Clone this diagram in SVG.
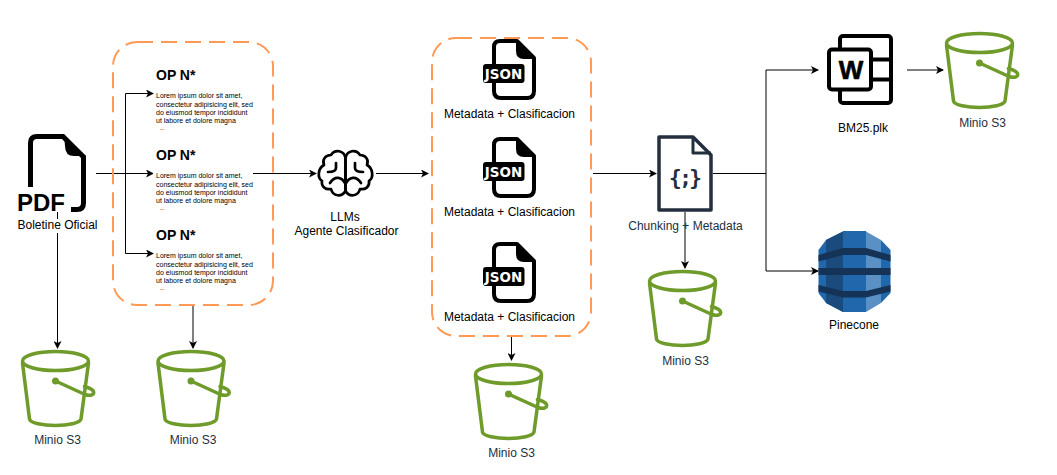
<svg xmlns="http://www.w3.org/2000/svg" width="1057" height="475" viewBox="0 0 1057 475">
<style>
text{font-family:"Liberation Sans",Arial,sans-serif;font-size:12px;fill:#000}
.c{text-anchor:middle}
.d{fill:#232F3E}
.box{fill:none;stroke:#FF9955;stroke-width:2;stroke-dasharray:16 8}
.e{fill:none;stroke:#000;stroke-width:1}
.h{font-size:14px;font-weight:bold}
.l{font-size:7px}
.b{fill:none;stroke:#6F9B2B;stroke-width:3.500;stroke-linecap:round;stroke-linejoin:round}
.k{fill:none;stroke:#000;stroke-width:4;stroke-linejoin:round}
.j{font-family:"DejaVu Sans",sans-serif;font-size:13.500px;font-weight:bold;fill:#fff;text-anchor:middle}
</style>
<defs>
<marker id="a" markerWidth="8" markerHeight="8" refX="7" refY="4" orient="auto" markerUnits="userSpaceOnUse"><path d="M0,0 L8,4 L0,8 L2,4Z" fill="#000"/></marker>
<g id="bucket">
<ellipse class="b" cx="34.500" cy="11" rx="33" ry="9.500"/>
<path class="b" d="M1.500,13 L8.500,69 C9,73 22,75.500 34.500,75.500 C47,75.500 59,73 60,69 L67.500,13"/>
<circle cx="34.500" cy="31" r="3.500" fill="#6F9B2B"/>
<path class="b" d="M34.500,31 L64,44.500 C70,46.500 73.500,44.500 72.500,41.500 C71.500,39 67,37.500 63.500,36.500"/>
</g>
<g id="json">
<path class="k" d="M0,50 V6 Q0,0 6,0 H23 L40,17 V50 Q40,57 33,57 H7 Q0,57 0,50Z" fill="#fff" transform="translate(2,2)"/>
<path d="M24,1 L43,20 H32 Q24,20 24,12Z" fill="#000"/>
<rect x="-9" y="25" width="41.500" height="19" rx="3" fill="#000"/>
<text class="j" x="11.500" y="40">JSON</text>
</g>
</defs>

<g id="connectors">
<path class="e" d="M96,173.500 H316" marker-end="url(#a)"/>
<path class="e" d="M125.500,253.500 V93.500"/>
<path class="e" d="M125.500,93.500 H153" marker-end="url(#a)"/>
<path class="e" d="M125.500,173.500 H153" marker-end="url(#a)"/>
<path class="e" d="M125.500,253.500 H153" marker-end="url(#a)"/>
<path class="e" d="M376,173.500 H428" marker-end="url(#a)"/>
<path class="e" d="M593,173.500 H656" marker-end="url(#a)"/>
<path class="e" d="M713,173.500 H766"/>
<path class="e" d="M766,173.500 V70 H818" marker-end="url(#a)"/>
<path class="e" d="M766,173.500 V271 H818" marker-end="url(#a)"/>
<path class="e" d="M907,70 H943" marker-end="url(#a)"/>
<path class="e" d="M685,212 V268" marker-end="url(#a)"/>
<path class="e" d="M57.500,212 V348" marker-end="url(#a)"/>
<path class="e" d="M193,305 V348" marker-end="url(#a)"/>
<path class="e" d="M511.500,336 V360" marker-end="url(#a)"/>
</g>

<g id="box1">
<rect class="box" x="113" y="42" width="160" height="263" rx="24"/>
<rect x="153" y="168" width="100" height="12" fill="#fff"/>
<g id="op1"><text class="h" x="156" y="80">OP N*</text><text class="l"><tspan x="156" y="98">Lorem ipsum dolor sit amet,</tspan><tspan x="156" y="106.500">consectetur adipisicing elit, sed</tspan><tspan x="156" y="114.500">do eiusmod tempor incididunt</tspan><tspan x="156" y="123">ut labore et dolore magna</tspan><tspan x="160" y="129.500">..</tspan></text></g>
<g id="op2"><text class="h" x="156" y="160">OP N*</text><text class="l"><tspan x="156" y="178">Lorem ipsum dolor sit amet,</tspan><tspan x="156" y="186.500">consectetur adipisicing elit, sed</tspan><tspan x="156" y="194.500">do eiusmod tempor incididunt</tspan><tspan x="156" y="203">ut labore et dolore magna</tspan><tspan x="160" y="209.500">..</tspan></text></g>
<g id="op3"><text class="h" x="156" y="240">OP N*</text><text class="l"><tspan x="156" y="258">Lorem ipsum dolor sit amet,</tspan><tspan x="156" y="266.500">consectetur adipisicing elit, sed</tspan><tspan x="156" y="274.500">do eiusmod tempor incididunt</tspan><tspan x="156" y="283">ut labore et dolore magna</tspan><tspan x="160" y="289.500">..</tspan></text></g>
</g>

<g id="pdf">
<path fill="none" stroke="#000" stroke-width="5" d="M30.500,187 V143 Q30.500,136.500 37,136.500 H63 L83.500,157 V203 Q83.500,209.500 77,209.500 H71"/>
<path d="M64,135 L86,156 H74 Q65,156 65,146Z" fill="#000"/>
<text x="17" y="211" style="font-size:24px;font-weight:bold">PDF</text>
<rect x="17" y="219" width="81" height="14" fill="#fff"/>
<text class="c" x="57.500" y="229">Boletine Oficial</text>
</g>

<g id="brain">
<g fill="none" stroke="#000" stroke-width="2.700" stroke-linecap="round" stroke-linejoin="round">
<path d="M345.500,158 C344,150 335,149 331,155 C325,155 322,160 324,165 C318,168 317,178 322,181 C321,187 326,190 331,189 C333,197 342,197 345.500,191 Z"/>
<path d="M345.500,158 C347,150 356,149 360,155 C366,155 369,160 367,165 C373,168 374,178 369,181 C370,187 365,190 360,189 C358,197 349,197 345.500,191 Z"/>
<path d="M336,163 V168 C336,171 332,172 328,172"/>
<path d="M355,163 V168 C355,171 359,172 363,172"/>
<path d="M330,183 C335,175 342,177 345.500,184"/>
<path d="M361,183 C356,175 349,177 345.500,184"/>
</g>
<text class="c" x="345" y="221">LLMs</text>
<text class="c" x="346.500" y="234.500">Agente Clasificador</text>
</g>

<g id="box2">
<rect class="box" x="432" y="38" width="159" height="298" rx="24"/>
</g>
<g id="json1"><use href="#json" x="492" y="39"/><text class="c" x="509.500" y="118">Metadata + Clasificacion</text></g>
<g id="json2"><use href="#json" x="492" y="137"/><text class="c" x="509.500" y="216">Metadata + Clasificacion</text></g>
<g id="json3"><use href="#json" x="492" y="242"/><text class="c" x="509.500" y="321">Metadata + Clasificacion</text></g>

<g id="chunk">
<path fill="#fff" stroke="#232F3E" stroke-width="3.500" stroke-linejoin="round" d="M659,137 H693 L711,155 V210 H659Z"/>
<path fill="none" stroke="#232F3E" stroke-width="3" stroke-linejoin="round" d="M693,137 V153 H711"/>
<text x="669" y="185" textLength="33" lengthAdjust="spacing" style="font-family:'DejaVu Sans Mono',monospace;font-size:21px;font-weight:bold;fill:#232F3E">{;}</text>
<text class="c d" x="685.500" y="230">Chunking + Metadata</text>
</g>

<g id="word">
<rect x="840" y="36" width="51" height="67" rx="3" fill="#fff" stroke="#000" stroke-width="4"/>
<path d="M872,59.500 H891 M872,79.500 H891" stroke="#000" stroke-width="4" fill="none"/>
<rect x="829" y="49.500" width="42" height="40" rx="3" fill="#fff" stroke="#000" stroke-width="4"/>
<text class="c" x="851" y="78.500" style="font-size:26px;font-weight:bold;stroke:#000;stroke-width:.6;stroke-linejoin:round">W</text>
<text class="c" x="863" y="132">BM25.plk</text>
</g>

<g id="pinecone">
<path fill="#2167AC" d="M818.500,250 L826,240 L843,231.500 V312 L826,303 L818.500,293Z"/>
<path fill="#1B4A7C" d="M826,240 L843,231.500 V312 L826,303Z"/>
<path fill="#2167AC" d="M843,231 H866 V312 H843Z"/>
<path fill="#5A90C4" d="M866,231.500 L881,240 V303 L866,312Z"/>
<path fill="#2167AC" d="M881,240 L890.500,250 V293 L881,303Z"/>
<path fill="#153356" d="M818.500,255 L843,248 H866 L890.500,255 V261.500 L866,255 H843 L818.500,261.500Z"/>
<path fill="#153356" d="M818.500,268 H890.500 V275 H818.500Z"/>
<path fill="#153356" d="M818.500,285 L843,291 H866 L890.500,285 V291.500 L866,297.500 H843 L818.500,291.500Z"/>
<text class="c" x="854" y="329">Pinecone</text>
</g>

<g id="s3-1"><use href="#bucket" x="21" y="350"/><text class="c d" x="57.500" y="444">Minio S3</text></g>
<g id="s3-2"><use href="#bucket" x="156.500" y="350"/><text class="c d" x="193" y="444">Minio S3</text></g>
<g id="s3-3"><use href="#bucket" x="474" y="363"/><text class="c d" x="511.500" y="457">Minio S3</text></g>
<g id="s3-4"><use href="#bucket" x="648" y="270"/><text class="c d" x="685.500" y="365">Minio S3</text></g>
<g id="s3-5"><use href="#bucket" x="945" y="32"/><text class="c d" x="982.500" y="127">Minio S3</text></g>
</svg>
